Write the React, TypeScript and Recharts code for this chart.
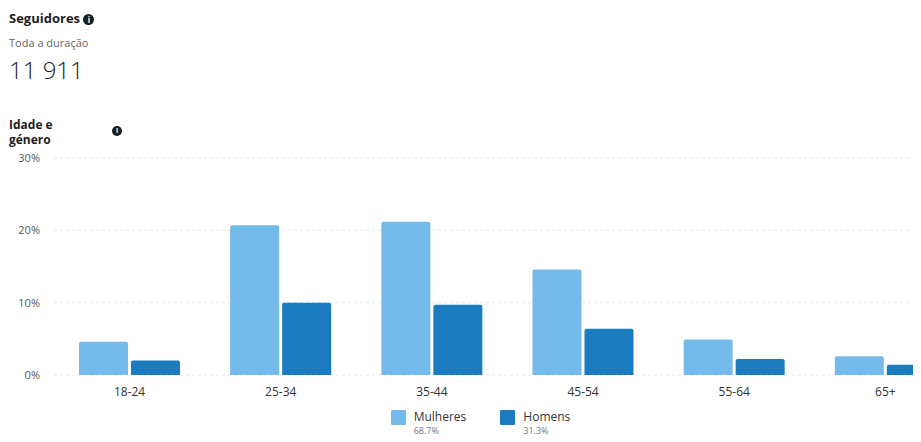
import React from "react";
import {
  BarChart,
  Bar,
  XAxis,
  YAxis,
  CartesianGrid,
  Legend,
} from "recharts";

const faixas = ["18-24", "25-34", "35-44", "45-54", "55-64", "65+"];
const mulheres = [4.6, 20.7, 21.2, 14.6, 4.9, 2.6];
const homens = [2.0, 10.0, 9.7, 6.4, 2.2, 1.4];
const yTicks = [0, 10, 20, 30];
const totais = { mulheres: "68,7%", homens: "31,3%" };

const LIGHT = "#74bbec";
const DARK = "#1a7cbf";
const FONT = "'Open Sans', 'Noto Sans', sans-serif";

const data = faixas.map((faixa, i) => ({
  faixa,
  mulheres: mulheres[i],
  homens: homens[i],
}));

function InfoIcon({ size = 11 }: { size?: number }) {
  return (
    <span
      style={{
        display: "inline-block",
        width: size,
        height: size,
        borderRadius: "50%",
        background: "#1d1d1d",
        color: "#fff",
        fontSize: size - 3,
        lineHeight: `${size}px`,
        textAlign: "center",
        fontWeight: 700,
        verticalAlign: "middle",
      }}
    >
      i
    </span>
  );
}

function LegendBox() {
  const item = (color: string, label: string, pct: string) => (
    <div style={{ display: "flex", alignItems: "flex-start", gap: 8 }}>
      <span
        style={{
          width: 15,
          height: 15,
          background: color,
          borderRadius: 1,
          marginTop: 2,
        }}
      />
      <div>
        <div style={{ fontSize: 12, color: "#333", lineHeight: "17px" }}>
          {label}
        </div>
        <div style={{ fontSize: 9, color: "#777", lineHeight: "12px" }}>
          {pct}
        </div>
      </div>
    </div>
  );
  return (
    <div
      style={{
        display: "flex",
        justifyContent: "center",
        gap: 34,
        paddingTop: 9,
        height: 27,
        fontFamily: FONT,
      }}
    >
      {item(LIGHT, "Mulheres", totais.mulheres)}
      {item(DARK, "Homens", totais.homens)}
    </div>
  );
}

export default function App() {
  return (
    <div
      style={{
        margin: -8,
        width: 921,
        height: 442,
        overflow: "hidden",
        position: "relative",
        background: "#fff",
        fontFamily: FONT,
        color: "#1d1d1d",
      }}
    >
      <div style={{ position: "absolute", left: 9, top: 9, fontSize: 13, fontWeight: 700 }}>
        Seguidores <InfoIcon />
      </div>
      <div style={{ position: "absolute", left: 9, top: 35, fontSize: 11, color: "#666" }}>
        Toda a duração
      </div>
      <div
        style={{
          position: "absolute",
          left: 9,
          top: 53,
          fontSize: 24,
          fontWeight: 300,
          color: "#222",
        }}
      >
        11 911
      </div>
      <div
        style={{
          position: "absolute",
          left: 9,
          top: 117,
          width: 60,
          fontSize: 12,
          fontWeight: 700,
          lineHeight: "15px",
        }}
      >
        Idade e género
      </div>
      <div style={{ position: "absolute", left: 112, top: 118 }}>
        <InfoIcon size={10} />
      </div>

      <div style={{ position: "absolute", left: 0, top: 148 }}>
        <BarChart
          width={961}
          height={287}
          data={data}
          margin={{ top: 10, right: 0, left: 0, bottom: 0 }}
          barCategoryGap={25}
          barGap={3}
        >
          <CartesianGrid
            vertical={false}
            strokeDasharray="3 3"
            stroke="#e2e7ec"
          />
          <XAxis
            dataKey="faixa"
            height={24}
            axisLine={false}
            tickLine={false}
            tickMargin={6}
            tick={{ fill: "#333", fontSize: 12, fontFamily: FONT }}
          />
          <YAxis
            width={54}
            domain={[0, 30]}
            ticks={yTicks}
            axisLine={false}
            tickLine={false}
            tickMargin={8}
            tickFormatter={(v) => `${v}%`}
            tick={{ fill: "#555", fontSize: 11, fontFamily: FONT }}
          />
          <Legend
            verticalAlign="bottom"
            height={36}
            content={() => <LegendBox />}
          />
          <Bar
            dataKey="mulheres"
            fill={LIGHT}
            radius={[2, 2, 0, 0]}
            isAnimationActive={false}
          />
          <Bar
            dataKey="homens"
            fill={DARK}
            radius={[2, 2, 0, 0]}
            isAnimationActive={false}
          />
        </BarChart>
      </div>
    </div>
  );
}
